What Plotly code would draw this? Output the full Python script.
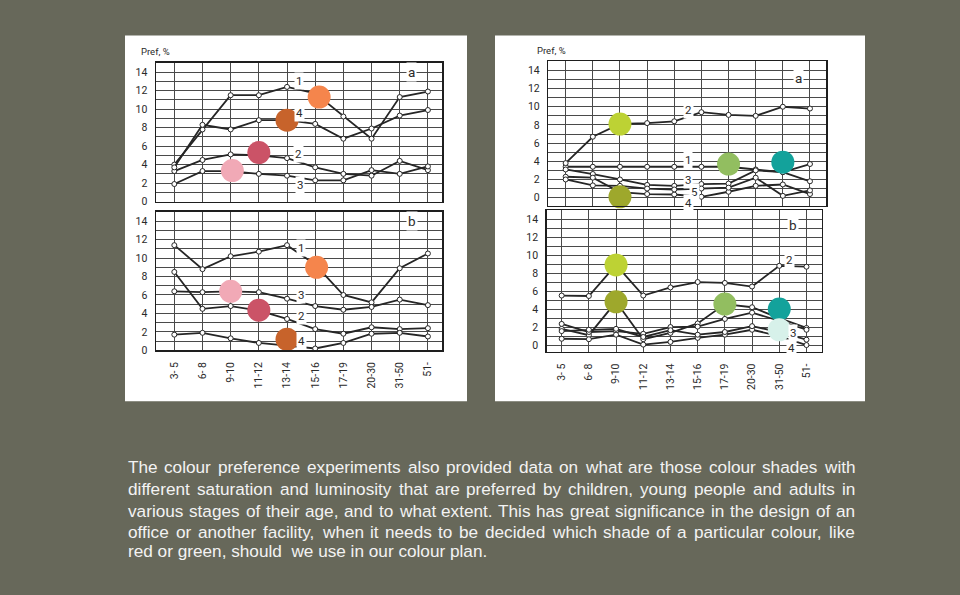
import plotly.graph_objects as go

# ---------------- data ----------------
ages = ["3- 5", "6- 8", "9-10", "11-12", "13-14", "15-16", "17-19", "20-30", "31-50", "51-"]
xi = list(range(len(ages)))

# left block (red shades), panel a
red_a_1 = [4.0, 7.8, 11.5, 11.5, 12.4, 11.7, 9.2, 6.8, 11.3, 11.9]
red_a_2 = [3.3, 4.5, 5.1, 5.0, 4.7, 3.7, 3.0, 2.8, 4.4, 3.4]
red_a_3 = [1.9, 3.3, 3.3, 3.0, 2.8, 2.3, 2.3, 3.4, 3.0, 3.8]
red_a_4 = [3.7, 8.3, 7.8, 8.8, 8.8, 8.4, 6.8, 7.9, 9.3, 9.9]
# left block, panel b
red_b_1 = [11.4, 8.8, 10.2, 10.7, 11.4, 9.3, 6.0, 5.2, 8.9, 10.5]
red_b_2 = [8.5, 4.5, 4.8, 4.3, 3.4, 2.3, 1.8, 2.5, 2.3, 2.4]
red_b_3 = [6.4, 6.3, 6.4, 6.3, 5.6, 4.8, 4.4, 4.7, 5.5, 4.9]
red_b_4 = [1.7, 1.9, 1.3, 0.8, 0.5, 0.2, 0.8, 1.8, 1.9, 1.5]

# right block (green shades), panel a
grn_a_1 = [3.4, 3.4, 3.4, 3.4, 3.4, 3.4, 3.4, 3.1, 2.8, 1.8]
grn_a_2 = [3.8, 6.7, 8.1, 8.2, 8.4, 9.4, 9.1, 9.0, 10.0, 9.8]
grn_a_3 = [3.1, 2.6, 2.0, 1.4, 1.3, 1.5, 1.55, 3.0, 2.8, 3.7]
grn_a_4 = [2.3, 2.2, 0.6, 0.4, 0.35, 0.1, 0.65, 1.3, 1.45, 0.4]
grn_a_5 = [2.0, 1.35, 1.3, 1.0, 0.9, 1.0, 1.1, 2.2, 0.2, 0.8]
# right block, panel b
grn_b_1 = [1.8, 1.1, 4.8, 0.65, 1.35, 2.4, 4.55, 4.2, 3.0, 1.9]
grn_b_2 = [5.5, 5.45, 8.9, 5.5, 6.4, 7.0, 6.9, 6.5, 8.8, 8.7]
grn_b_3 = [2.35, 1.45, 1.55, 1.25, 2.0, 2.05, 2.9, 3.6, 2.7, 1.7]
grn_b_4 = [0.7, 0.65, 1.15, 0.05, 0.35, 0.8, 1.15, 1.7, 1.0, 0.0]
grn_b_5 = [1.55, 1.7, 1.8, 0.9, 1.65, 1.15, 1.45, 2.1, 1.45, 0.6]

# colour swatches (position on the chart)
red_a_dot_x = [5.14, 4.0, 3.0, 2.06]
red_a_dot_y = [11.3, 8.8, 5.3, 3.35]
red_a_dot_c = ["#f5854c", "#c7632b", "#cb5367", "#f1a9b6"]
red_b_dot_x = [5.05, 2.0, 3.0, 4.0]
red_b_dot_y = [9.0, 6.4, 4.35, 1.2]
red_b_dot_c = ["#f5854c", "#f1a9b6", "#cb5367", "#c7632b"]
grn_a_dot_x = [2.0, 2.0, 6.0, 8.0]
grn_a_dot_y = [8.1, 0.1, 3.7, 3.9]
grn_a_dot_c = ["#bdd234", "#9ea82c", "#92be60", "#13a29b"]
grn_b_dot_x = [2.0, 2.0, 6.0, 8.0, 8.0]
grn_b_dot_y = [8.9, 4.8, 4.55, 4.0, 1.7]
grn_b_dot_c = ["#bdd234", "#9ea82c", "#92be60", "#13a29b", "#d7f1ea"]

paragraph = [
    "The colour preference experiments also provided data on what are those colour shades with",
    "different saturation and luminosity that are preferred by children, young people and adults in",
    "various stages of their age, and to what extent. This has great significance in the design of an",
    "office or another facility, when it needs to be decided which shade of a particular colour, like",
    "red or green, should  we use in our colour plan.",
]

# ---------------- styling ----------------
BG = "#67685a"
GRID = "#4a4a4a"
FRAME = "#1e1e1e"
LINE = "#262626"
TXT = "#2a2a2a"
TFONT = "Roboto, Liberation Sans, sans-serif"
W, H = 960, 595

fig = go.Figure()

def px_x(p): return p / W
def px_y(p): return 1 - p / H

panels = {
    # name: (x-domain px, y-domain px (bottom, top), x range, y range)
    "1": ((156, 442), (204, 63.6), [-0.65, 9.5], [0, 15]),
    "2": ((156, 442), (354.5, 214.5), [-0.65, 9.5], [0, 15]),
    "3": ((548.3, 826), (208.3, 62), [-0.64, 9.59], [-0.9, 15]),
    "4": ((546.7, 821.7), (356, 212.5), [-0.55, 9.56], [-0.75, 15]),
}

layout_axes = {}
for k, (xd, yd, xr, yr) in panels.items():
    xn = "xaxis" if k == "1" else "xaxis" + k
    yn = "yaxis" if k == "1" else "yaxis" + k
    xa = "x" if k == "1" else "x" + k
    ya = "y" if k == "1" else "y" + k
    bottom = k in ("2", "4")
    layout_axes[xn] = dict(
        domain=[px_x(xd[0]), px_x(xd[1])], range=xr, anchor=ya,
        tickmode="array", tickvals=xi, ticktext=ages,
        showticklabels=bottom, tickangle=-90,
        tickfont=dict(family=TFONT, size=10.5, color=TXT),
        showgrid=True, gridcolor=GRID, gridwidth=1,
        showline=True, linecolor=FRAME, linewidth=1.5, mirror=True,
        ticks="", zeroline=False, fixedrange=True, ticklabelstandoff=6,
    )
    layout_axes[yn] = dict(
        domain=[px_y(yd[0]), px_y(yd[1])], range=yr, anchor=xa,
        tickmode="linear", tick0=0, dtick=2,
        tickfont=dict(family=TFONT, size=10.5, color=TXT),
        showgrid=True, gridcolor=GRID, gridwidth=1,
        minor=dict(tickmode="linear", tick0=0, dtick=1, showgrid=True,
                   gridcolor=GRID, gridwidth=1, ticks=""),
        showline=True, linecolor=FRAME, linewidth=1.5, mirror=True,
        ticks="", zeroline=False, fixedrange=True, ticklabelstandoff=5,
    )

def add_line(vals, k):
    xa = "x" if k == "1" else "x" + k
    ya = "y" if k == "1" else "y" + k
    fig.add_trace(go.Scatter(
        x=xi, y=vals, xaxis=xa, yaxis=ya, mode="lines+markers",
        line=dict(color=LINE, width=1.8),
        marker=dict(symbol="circle", size=5, color="white",
                    line=dict(color=LINE, width=1)),
        showlegend=False, hoverinfo="skip", cliponaxis=False))

def add_dots(xs, ys, cs, k):
    xa = "x" if k == "1" else "x" + k
    ya = "y" if k == "1" else "y" + k
    fig.add_trace(go.Scatter(
        x=xs, y=ys, xaxis=xa, yaxis=ya, mode="markers",
        marker=dict(size=23, color=cs, line=dict(width=0)),
        showlegend=False, hoverinfo="skip", cliponaxis=False))

for v in (red_a_1, red_a_2, red_a_3, red_a_4):
    add_line(v, "1")
for v in (red_b_1, red_b_2, red_b_3, red_b_4):
    add_line(v, "2")
for v in (grn_a_1, grn_a_2, grn_a_3, grn_a_4, grn_a_5):
    add_line(v, "3")
for v in (grn_b_1, grn_b_2, grn_b_3, grn_b_4, grn_b_5):
    add_line(v, "4")

add_dots(red_a_dot_x, red_a_dot_y, red_a_dot_c, "1")
add_dots(red_b_dot_x, red_b_dot_y, red_b_dot_c, "2")
add_dots(grn_a_dot_x, grn_a_dot_y, grn_a_dot_c, "3")
add_dots(grn_b_dot_x, grn_b_dot_y, grn_b_dot_c, "4")

annotations = []

def lab(text, x, y, k, size=11.5):
    xa = "x" if k == "1" else "x" + k
    ya = "y" if k == "1" else "y" + k
    annotations.append(dict(
        text=text, x=x, y=y, xref=xa, yref=ya, showarrow=False,
        font=dict(family=TFONT, size=size, color=TXT),
        bgcolor="white", borderpad=1, xanchor="center", yanchor="middle"))

# series labels
lab("1", 4.43, 13.0, "1"); lab("4", 4.46, 9.6, "1"); lab("2", 4.42, 5.1, "1"); lab("3", 4.46, 1.8, "1")
lab("a", 8.4, 14.0, "1", 13.5)
lab("1", 4.5, 11.1, "2"); lab("3", 4.5, 6.05, "2"); lab("2", 4.5, 3.75, "2"); lab("4", 4.5, 1.05, "2")
lab("b", 8.43, 14.0, "2", 13.5)
lab("2", 4.52, 9.6, "3"); lab("1", 4.52, 4.1, "3"); lab("3", 4.52, 1.9, "3"); lab("5", 4.76, 0.6, "3")
lab("4", 4.52, -0.55, "3")
lab("a", 8.56, 13.2, "3", 13.5)
lab("2", 8.39, 9.45, "4"); lab("3", 8.5, 1.3, "4"); lab("4", 8.45, -0.35, "4")
lab("b", 8.5, 13.35, "4", 13.5)

# axis titles
annotations.append(dict(text="Pref, %", x=px_x(139), y=px_y(52), xref="paper", yref="paper",
                        showarrow=False, xanchor="left", yanchor="middle",
                        font=dict(family=TFONT, size=9.5, color=TXT)))
annotations.append(dict(text="Pref, %", x=px_x(535), y=px_y(51), xref="paper", yref="paper",
                        showarrow=False, xanchor="left", yanchor="middle",
                        font=dict(family=TFONT, size=9.5, color=TXT)))

# paragraph (justified like the original)
AW = {c: 556 for c in "abdeghnopqu"}
AW.update({"c": 500, "k": 500, "s": 500, "v": 500, "x": 500, "y": 500, "z": 500,
           "f": 278, "t": 278, "i": 222, "j": 222, "l": 222, "m": 833, "r": 333,
           "w": 722, "T": 611, ",": 278, ".": 278, " ": 278})
FS = 17.2
PFONT = dict(family="Liberation Sans, Arial, sans-serif", size=FS, color="#f3f3f3")
def tw(s):
    return sum(AW.get(c, 556) for c in s) * FS / 1000.0

LEFT, RIGHT = 127, 854
line_y = [473, 495, 517, 538, 558]
for i, line in enumerate(paragraph):
    if i < len(paragraph) - 1:
        words = line.split(" ")
        total = sum(tw(w) for w in words)
        gap = (RIGHT - LEFT - total) / (len(words) - 1)
        xpos = LEFT
        for w in words:
            annotations.append(dict(text=w, x=px_x(xpos), y=px_y(line_y[i]), xref="paper",
                                    yref="paper", showarrow=False, xanchor="left",
                                    yanchor="middle", font=PFONT, borderpad=0))
            xpos += tw(w) + gap
    else:
        annotations.append(dict(text=line, x=px_x(LEFT), y=px_y(line_y[i]), xref="paper",
                                yref="paper", showarrow=False, xanchor="left",
                                yanchor="middle", font=PFONT, borderpad=0))

shapes = [
    dict(type="rect", xref="paper", yref="paper", x0=px_x(125), x1=px_x(467),
         y0=px_y(406), y1=px_y(36), fillcolor="white", line=dict(width=0), layer="below"),
    dict(type="rect", xref="paper", yref="paper", x0=px_x(495), x1=px_x(865),
         y0=px_y(406), y1=px_y(36), fillcolor="white", line=dict(width=0), layer="below"),
]

fig.update_layout(
    width=W, height=H, autosize=False,
    margin=dict(l=0, r=0, t=0, b=0),
    paper_bgcolor=BG, plot_bgcolor="white",
    showlegend=False,
    annotations=annotations, shapes=shapes,
    **layout_axes,
)

fig.write_html("out.html", config={"displayModeBar": False, "staticPlot": True},
               post_script="document.body.style.margin='0';document.body.style.overflow='hidden';")
